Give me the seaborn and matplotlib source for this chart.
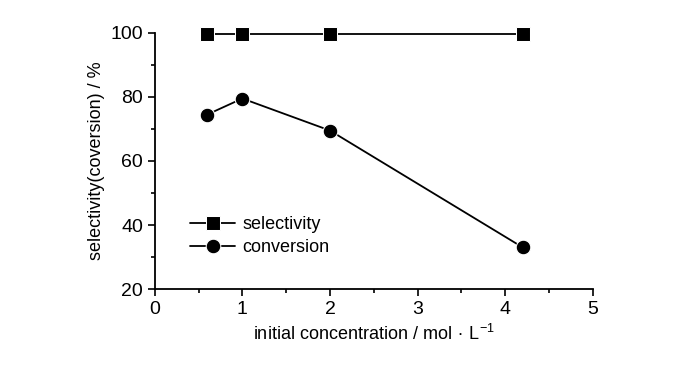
import pandas as pd
import matplotlib.pyplot as plt
import seaborn as sns

# data
conc = [0.6, 1.0, 2.0, 4.2]
selectivity = [99.5, 99.5, 99.5, 99.5]
conversion = [74.5, 79.5, 69.5, 33.0]

df = pd.DataFrame({
    'conc': conc * 2,
    'value': selectivity + conversion,
    'series': ['selectivity'] * len(conc) + ['conversion'] * len(conc),
})

sns.set_style('ticks')
plt.rcParams['font.family'] = ['Liberation Sans', 'DejaVu Sans']
plt.rcParams['mathtext.fontset'] = 'custom'
plt.rcParams['mathtext.rm'] = 'Liberation Sans'
plt.rcParams['axes.unicode_minus'] = False
for k in ['text.color', 'axes.labelcolor', 'xtick.color', 'ytick.color', 'axes.edgecolor']:
    plt.rcParams[k] = 'black'

fig = plt.figure(figsize=(7, 3.65), dpi=100)
ax = fig.add_axes([0.221, 0.208, 0.626, 0.702])

sns.lineplot(data=df, x='conc', y='value', hue='series', style='series',
             markers={'selectivity': 's', 'conversion': 'o'}, dashes=False,
             palette={'selectivity': 'black', 'conversion': 'black'},
             markersize=10.5, linewidth=1.3, ax=ax, clip_on=False)

ax.set_xlim(0, 5)
ax.set_ylim(20, 100)
ax.set_xticks([0, 1, 2, 3, 4, 5])
ax.set_xticks([0.5, 1.5, 2.5, 3.5, 4.5], minor=True)
ax.set_yticks([20, 40, 60, 80, 100])
ax.set_yticks([30, 50, 70, 90], minor=True)
ax.tick_params(axis='both', which='major', length=5, width=1.2, labelsize=14, direction='out')
ax.tick_params(axis='both', which='minor', length=3, width=1.2, direction='out')
for s in ['left', 'bottom']:
    ax.spines[s].set_linewidth(1.3)
sns.despine(ax=ax)

ax.set_xlabel(r'initial concentration / mol$\,\bullet\,$L$^{\mathregular{-1}}$', fontsize=13)
ax.set_ylabel('selectivity(coversion) / %', fontsize=13)

ax.legend(title=None, frameon=False, loc='upper left', bbox_to_anchor=(0.06, 0.32),
          fontsize=13, handlelength=2.5, borderpad=0, labelspacing=0.35, handletextpad=0.4)

fig.savefig('out.png', dpi=100)
